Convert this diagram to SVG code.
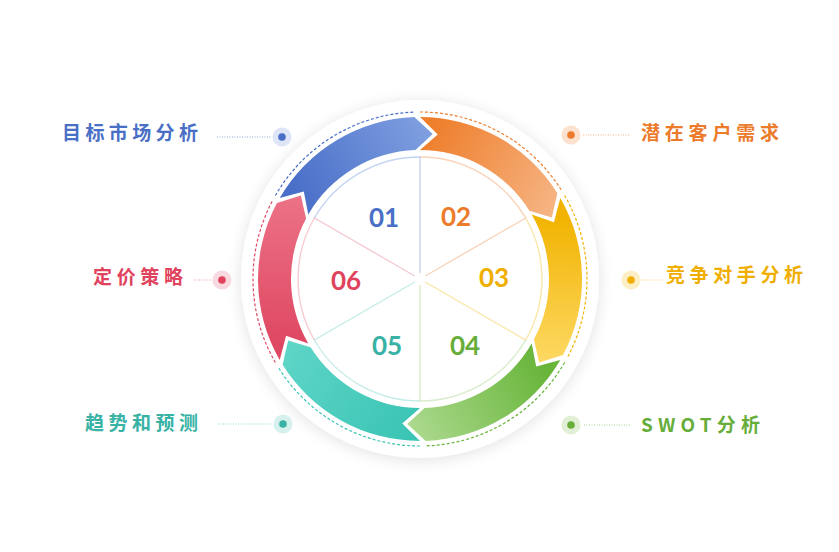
<svg xmlns="http://www.w3.org/2000/svg" width="839" height="552" viewBox="0 0 839 552">
<defs>
<filter id="sh" x="-30%" y="-30%" width="160%" height="160%">
<feGaussianBlur in="SourceAlpha" stdDeviation="8"/>
<feOffset dx="0" dy="2"/>
<feComponentTransfer><feFuncA type="linear" slope="0.12"/></feComponentTransfer>
<feMerge><feMergeNode/><feMergeNode in="SourceGraphic"/></feMerge>
</filter>
<linearGradient id="g0" gradientUnits="userSpaceOnUse" x1="300" y1="200" x2="428" y2="128"><stop offset="0" stop-color="#4a6fc8"/><stop offset="1" stop-color="#7f9fe0"/></linearGradient>
<linearGradient id="g1" gradientUnits="userSpaceOnUse" x1="300" y1="200" x2="428" y2="128"><stop offset="0" stop-color="#ee7f2d"/><stop offset="1" stop-color="#f6b584"/></linearGradient>
<linearGradient id="g2" gradientUnits="userSpaceOnUse" x1="300" y1="200" x2="428" y2="128"><stop offset="0" stop-color="#f1b300"/><stop offset="1" stop-color="#fdd862"/></linearGradient>
<linearGradient id="g3" gradientUnits="userSpaceOnUse" x1="300" y1="200" x2="428" y2="128"><stop offset="0" stop-color="#68b53a"/><stop offset="1" stop-color="#abd98d"/></linearGradient>
<linearGradient id="g4" gradientUnits="userSpaceOnUse" x1="300" y1="200" x2="428" y2="128"><stop offset="0" stop-color="#3cc5b5"/><stop offset="1" stop-color="#5ed5c7"/></linearGradient>
<linearGradient id="g5" gradientUnits="userSpaceOnUse" x1="300" y1="200" x2="428" y2="128"><stop offset="0" stop-color="#df4862"/><stop offset="1" stop-color="#ec7286"/></linearGradient>
<path id="arrow" d="M279.70,198.00 A162,162 0 0 1 414.35,117.10 L432.68,134.05 L415.50,150.08 A129,129 0 0 0 308.28,214.50 L303.80,191.44 Z"/>
<path id="dash" d="M275.37,195.5 A167,167 0 0 1 414.17,112.10" fill="none"/>
<path id="sect" d="M314.35,218 A122,122 0 0 1 420,157 L420,273" fill="none"/>
</defs>
<style>
.dash{stroke-width:1.2;stroke-dasharray:3 2;fill:none}
.sect{stroke-width:1.4;fill:none;opacity:0.45}
.num{font-family:Lato,"Open Sans",sans-serif;font-weight:700;font-size:26px;text-anchor:middle}
.lbl{font-family:"Noto Sans CJK SC","Noto Sans",sans-serif;font-weight:700;font-size:19px}
.conn{stroke-width:1;stroke-dasharray:1 1.5;fill:none}
</style>
<rect width="839" height="552" fill="#ffffff"/>
<circle cx="420" cy="279" r="179" fill="#ffffff" filter="url(#sh)"/>
<g id="connectors">
<line class="conn" x1="217" y1="137" x2="272" y2="137" stroke="#8ea3d8"/>
<line class="conn" x1="583" y1="135" x2="630" y2="135" stroke="#f2b48a"/>
<line class="conn" x1="642" y1="280" x2="664" y2="280" stroke="#f5cf6a"/>
<line class="conn" x1="584" y1="425" x2="630" y2="425" stroke="#a7cf8e"/>
<line class="conn" x1="218" y1="424" x2="273" y2="424" stroke="#8fd3cb"/>
<line class="conn" x1="194" y1="280" x2="212" y2="280" stroke="#eba0ad"/>
</g>
<g id="node-01">
<use href="#arrow" fill="url(#g0)"/>
<use href="#dash" class="dash" stroke="#4a6fc8"/>
<use href="#sect" class="sect" stroke="#7f9fe0"/>
<text class="num" x="384" y="227" fill="#4a6fc6">01</text>
<circle cx="282" cy="137" r="9.5" fill="#dde5f6"/><circle cx="282" cy="137" r="3.8" fill="#4a6fc6"/>
<text class="lbl" x="62" y="140" fill="#4a6fc6" textLength="136" lengthAdjust="spacing">目标市场分析</text>
</g>
<g id="node-02">
<use href="#arrow" fill="url(#g1)" transform="rotate(60 420 279)"/>
<use href="#dash" class="dash" stroke="#ee7f2d" transform="rotate(60 420 279)"/>
<use href="#sect" class="sect" stroke="#f2a066" transform="rotate(60 420 279)"/>
<text class="num" x="456" y="226" fill="#ec7b2b">02</text>
<circle cx="571" cy="135" r="9.5" fill="#fbe1ce"/><circle cx="571" cy="135" r="3.8" fill="#ec7b2b"/>
<text class="lbl" x="641" y="140" fill="#ec7b2b" textLength="138" lengthAdjust="spacing">潜在客户需求</text>
</g>
<g id="node-03">
<use href="#arrow" fill="url(#g2)" transform="rotate(120 420 279)"/>
<use href="#dash" class="dash" stroke="#f1b300" transform="rotate(120 420 279)"/>
<use href="#sect" class="sect" stroke="#f5c842" transform="rotate(120 420 279)"/>
<text class="num" x="494" y="287" fill="#f0ae00">03</text>
<circle cx="631" cy="280" r="9.5" fill="#fcefc6"/><circle cx="631" cy="280" r="3.8" fill="#f0ae00"/>
<text class="lbl" x="666" y="282" fill="#f0ae00" textLength="137" lengthAdjust="spacing">竞争对手分析</text>
</g>
<g id="node-04">
<use href="#arrow" fill="url(#g3)" transform="rotate(180 420 279)"/>
<use href="#dash" class="dash" stroke="#68b53a" transform="rotate(180 420 279)"/>
<use href="#sect" class="sect" stroke="#a9d48c" transform="rotate(180 420 279)"/>
<text class="num" x="465" y="355" fill="#67ad3a">04</text>
<circle cx="571" cy="425" r="9.5" fill="#e1efd7"/><circle cx="571" cy="425" r="3.8" fill="#67ad3a"/>
<text class="lbl" x="641" y="432" fill="#67ad3a" textLength="119" lengthAdjust="spacing">SWOT分析</text>
</g>
<g id="node-05">
<use href="#arrow" fill="url(#g4)" transform="rotate(240 420 279)"/>
<use href="#dash" class="dash" stroke="#3cc5b5" transform="rotate(240 420 279)"/>
<use href="#sect" class="sect" stroke="#7ed8cd" transform="rotate(240 420 279)"/>
<text class="num" x="387" y="355" fill="#38b2a5">05</text>
<circle cx="283" cy="424" r="9.5" fill="#d6f1ed"/><circle cx="283" cy="424" r="3.8" fill="#38b2a5"/>
<text class="lbl" x="85" y="430" fill="#38b2a5" textLength="113" lengthAdjust="spacing">趋势和预测</text>
</g>
<g id="node-06">
<use href="#arrow" fill="url(#g5)" transform="rotate(300 420 279)"/>
<use href="#dash" class="dash" stroke="#df4862" transform="rotate(300 420 279)"/>
<use href="#sect" class="sect" stroke="#ec8b9b" transform="rotate(300 420 279)"/>
<text class="num" x="346" y="290" fill="#df435d">06</text>
<circle cx="222" cy="280" r="9.5" fill="#f8d9df"/><circle cx="222" cy="280" r="3.8" fill="#df435d"/>
<text class="lbl" x="93" y="284" fill="#df435d" textLength="90" lengthAdjust="spacing">定价策略</text>
</g>
</svg>
